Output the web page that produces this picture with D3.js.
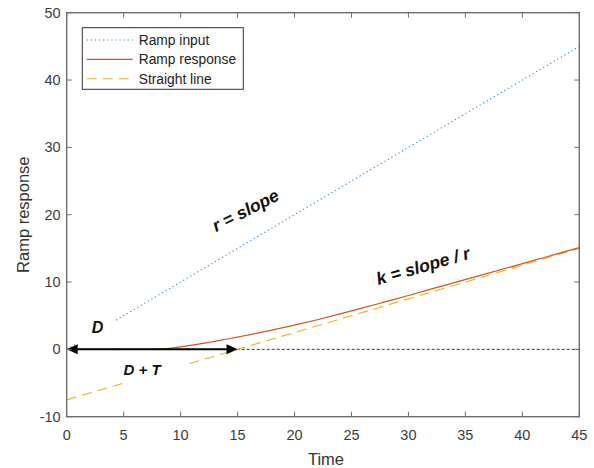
<!DOCTYPE html>
<html>
<head>
<meta charset="utf-8">
<script src="https://cdn.jsdelivr.net/npm/d3@7"></script>
<style>
  html, body { margin: 0; padding: 0; background: #fff; }
  svg { display: block; font-family: Arial, "Liberation Sans", Helvetica, sans-serif; }
</style>
</head>
<body>
<svg id="chart" width="594" height="468"></svg>
<script>
// Ramp input, ramp response of a delayed lag process, and its asymptote
const inputTime = [0, 45];
const inputValue = [0, 45];

const responseTime = [0, 2, 4, 6, 7, 8, 9, 10, 11, 12, 13, 14, 15, 16, 18, 20, 22, 24, 26, 28, 30, 33, 36, 39, 42, 45];
const responseValue = [0, 0, 0, 0, 0, 0.04, 0.16, 0.38, 0.62, 0.9, 1.2, 1.5, 1.82, 2.16, 2.86, 3.6, 4.4, 5.26, 6.16, 7.08, 8.0, 9.42, 10.84, 12.26, 13.68, 15.1];

const asymptoteTime = [0, 45];
const asymptoteValue = [-7.5, 15];

const zeroLineTime = [0, 45];
const arrowTime = [0, 15];   // from t = 0 to D + T

const xTicks = [0, 5, 10, 15, 20, 25, 30, 35, 40, 45];
const yTicks = [-10, 0, 10, 20, 30, 40, 50];

const legendLabels = ["Ramp input", "Ramp response", "Straight line"];

const W = 594, H = 468;
const margin = { left: 66.7, right: 14.7, top: 12.7, bottom: 51.3 };
const pw = W - margin.left - margin.right;
const ph = H - margin.top - margin.bottom;

const svg = d3.select("#chart");
const g = svg.append("g").attr("transform", `translate(${margin.left},${margin.top})`);

const x = d3.scaleLinear().domain([0, 45]).range([0, pw]);
const y = d3.scaleLinear().domain([-10, 50]).range([ph, 0]);

const line = d3.line().x(d => x(d[0])).y(d => y(d[1]));
const smooth = d3.line().x(d => x(d[0])).y(d => y(d[1])).curve(d3.curveMonotoneX);

const colors = { input: "#2f86cc", response: "#D95319", asym: "#EDB120" };

// zero reference line
g.append("path")
  .datum(zeroLineTime.map(t => [t, 0]))
  .attr("d", line)
  .attr("fill", "none").attr("stroke", "#222").attr("stroke-width", 0.9)
  .attr("stroke-dasharray", "3,2");

// series
g.append("path")
  .datum(inputTime.map((t, i) => [t, inputValue[i]]))
  .attr("d", line)
  .attr("fill", "none").attr("stroke", colors.input).attr("stroke-width", 1.1)
  .attr("stroke-dasharray", "1.2,2.9");

g.append("path")
  .datum(asymptoteTime.map((t, i) => [t, asymptoteValue[i]]))
  .attr("d", line)
  .attr("fill", "none").attr("stroke", colors.asym).attr("stroke-width", 1.1)
  .attr("stroke-dasharray", "10,6");

g.append("path")
  .datum(responseTime.map((t, i) => [t, responseValue[i]]))
  .attr("d", smooth)
  .attr("fill", "none").attr("stroke", colors.response).attr("stroke-width", 1.2);

// annotation labels, optionally on a white background
function label(txt, cx, cy, angle, size, box) {
  const grp = g.append("g").attr("transform", `translate(${cx},${cy}) rotate(${angle})`);
  if (box) {
    grp.append("rect")
      .attr("x", box[0]).attr("y", box[1]).attr("width", box[2]).attr("height", box[3])
      .attr("fill", "#fff");
  }
  grp.append("text")
    .attr("text-anchor", "middle").attr("dominant-baseline", "central")
    .attr("font-size", size).attr("font-weight", "bold").attr("font-style", "italic")
    .attr("fill", "#111")
    .text(txt);
}
label("D", 97.5 - margin.left, 327 - margin.top, 0, 16, [-22, -10, 40.5, 27]);
label("D + T", 142 - margin.left, 369 - margin.top, 0, 15, [-14.5, -16, 56.5, 29]);
label("r = slope", 245.5 - margin.left, 210.5 - margin.top, -27, 17.5, null);
label("k = slope / r", 423 - margin.left, 266 - margin.top, -16, 17.5, null);

// double-headed arrow spanning D + T
const ax0 = x(arrowTime[0]), ax1 = x(arrowTime[1]), ay = y(0);
g.append("line")
  .attr("x1", ax0 + 6).attr("x2", ax1 - 6).attr("y1", ay).attr("y2", ay)
  .attr("stroke", "#000").attr("stroke-width", 2);
g.append("path")
  .attr("d", `M${ax0},${ay} L${ax0 + 11},${ay - 5} L${ax0 + 11},${ay + 5} Z`)
  .attr("fill", "#000");
g.append("path")
  .attr("d", `M${ax1},${ay} L${ax1 - 11},${ay - 5} L${ax1 - 11},${ay + 5} Z`)
  .attr("fill", "#000");

// axes box with inward ticks on all sides
const axisColor = "#6e6e6e";
const tickLen = 5;
const frame = g.append("g");
frame.append("rect").attr("x", 0).attr("y", 0).attr("width", pw).attr("height", ph)
  .attr("fill", "none").attr("stroke", axisColor).attr("stroke-width", 1.4);

xTicks.forEach(t => {
  frame.append("line").attr("x1", x(t)).attr("x2", x(t)).attr("y1", ph).attr("y2", ph - tickLen)
    .attr("stroke", axisColor).attr("stroke-width", 1);
  frame.append("line").attr("x1", x(t)).attr("x2", x(t)).attr("y1", 0).attr("y2", tickLen)
    .attr("stroke", axisColor).attr("stroke-width", 1);
});
yTicks.forEach(v => {
  frame.append("line").attr("x1", 0).attr("x2", tickLen).attr("y1", y(v)).attr("y2", y(v))
    .attr("stroke", axisColor).attr("stroke-width", 1);
  frame.append("line").attr("x1", pw).attr("x2", pw - tickLen).attr("y1", y(v)).attr("y2", y(v))
    .attr("stroke", axisColor).attr("stroke-width", 1);
});

const tickColor = "#3c3c3c";
g.selectAll(".xlab").data(xTicks).enter().append("text")
  .attr("x", d => x(d)).attr("y", ph + 23.5)
  .attr("text-anchor", "middle").attr("font-size", 14.5).attr("fill", tickColor)
  .text(d => d);
g.selectAll(".ylab").data(yTicks).enter().append("text")
  .attr("x", -6).attr("y", d => y(d) + 5)
  .attr("text-anchor", "end").attr("font-size", 14.5).attr("fill", tickColor)
  .text(d => d);

// axis titles
g.append("text")
  .attr("x", pw / 2 + 3).attr("y", ph + 48)
  .attr("text-anchor", "middle").attr("font-size", 16.5).attr("fill", "#333")
  .text("Time");
g.append("text")
  .attr("transform", `translate(${-38},${ph / 2}) rotate(-90)`)
  .attr("text-anchor", "middle").attr("font-size", 16.5).attr("fill", "#333")
  .text("Ramp response");

// legend
const lg = g.append("g").attr("transform", `translate(${82.3 - margin.left},${27.7 - margin.top})`);
lg.append("rect").attr("width", 161).attr("height", 61.6)
  .attr("fill", "#fff").attr("stroke", "#333").attr("stroke-width", 1);
const legendStyles = [
  { color: colors.input, dash: "1.2,2.9" },
  { color: colors.response, dash: null },
  { color: colors.asym, dash: "10,6" }
];
legendLabels.forEach((name, i) => {
  const ly = 12.3 + i * 19.4;
  lg.append("line").attr("x1", 4.4).attr("x2", 50.4).attr("y1", ly).attr("y2", ly)
    .attr("stroke", legendStyles[i].color).attr("stroke-width", 1.1)
    .attr("stroke-dasharray", legendStyles[i].dash);
  lg.append("text").attr("x", 56.4).attr("y", ly + 5)
    .attr("font-size", 13.8).attr("fill", "#222").text(name);
});
</script>
</body>
</html>
